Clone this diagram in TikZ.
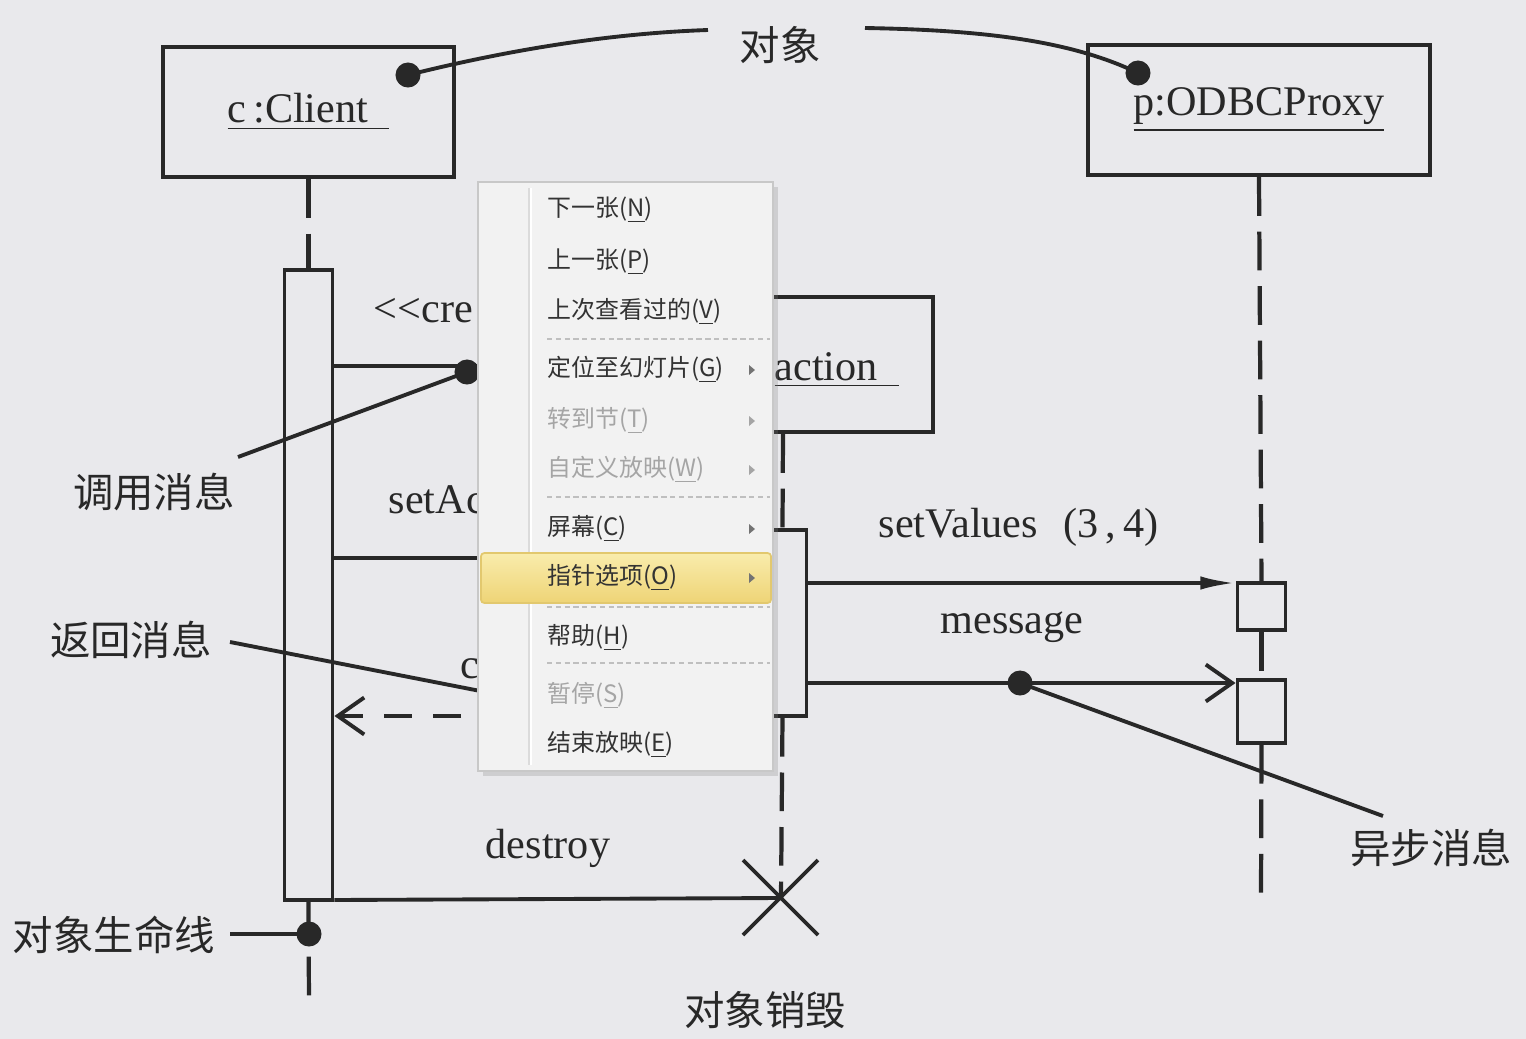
\documentclass[tikz,border=0pt]{standalone}
\usepackage{fontspec}
\setmainfont{Liberation Serif}
\newfontfamily\cjk{Noto Sans CJK SC}
\usetikzlibrary{arrows.meta,shadows}
\definecolor{bg}{RGB}{233,233,236}
\definecolor{ink}{RGB}{40,40,40}
\definecolor{menubg}{RGB}{242,242,242}
\definecolor{menuline}{RGB}{200,200,200}
\definecolor{hitop}{RGB}{249,236,172}
\definecolor{hibot}{RGB}{238,212,118}
\definecolor{hiedge}{RGB}{226,200,110}
\definecolor{dimtext}{RGB}{165,165,165}

\begin{document}
\begin{tikzpicture}[x=0.01cm, y=-0.01cm]
  \tikzset{
    obj/.style={draw=ink, line width=1.2pt, fill=bg, font=\fontsize{12pt}{14pt}\selectfont, text=ink},
    act/.style={draw=ink, line width=1.1pt, fill=bg, minimum width=0.48cm, inner sep=0pt},
    life/.style={draw=ink, line width=1.2pt, dash pattern=on 11pt off 4.5pt},
    msg/.style={draw=ink, line width=1.1pt},
    retmsg/.style={msg, dash pattern=on 8pt off 6pt},
    synchead/.style={-{Latex[length=10pt, width=3.8pt]}},
    asynchead/.style={-{Straight Barb[length=7.5pt, width=10.5pt, line width=1.1pt]}},
    lbl/.style={font=\fontsize{12pt}{14pt}\selectfont, text=ink, inner sep=0pt},
    anno/.style={font=\cjk\fontsize{11.5pt}{13pt}\selectfont, text=ink, inner sep=0pt},
    pinline/.style={draw=ink, line width=1.1pt},
    pindot/.style={circle, fill=ink, inner sep=0pt, minimum size=0.25cm},
    mitem/.style={font=\cjk\fontsize{6.8pt}{8pt}\selectfont, text=black!80, anchor=west, inner sep=0pt},
    dimitem/.style={mitem, text=dimtext},
    menusep/.style={draw=black!25, line width=0.5pt, dash pattern=on 1.5pt off 1pt}
  }
  \def\submark#1#2{\fill[#2] (749,#1-5) -- (755,#1) -- (749,#1+5) -- cycle;}

  \fill[bg] (0,0) rectangle (1526,1039);
  \useasboundingbox (0,0) rectangle (1526,1039);

  % objects
  \node[obj, minimum width=2.91cm, minimum height=1.30cm] (client) at (308.5,112) {\underline{c\,:Client\ \ }};
  \node[obj, minimum width=3.42cm, minimum height=1.30cm] (proxy) at (1259,110) {\underline{p:ODBCProxy}};
  \node[obj, minimum width=3.00cm, minimum height=1.35cm] (trans) at (783,364.5) {};
  \node[lbl, anchor=base west] (ltrans) at (774,380) {\underline{action\ \ }};

  % activations
  \node[act, minimum height=6.30cm] (cact) at (308.5,585) {};
  \node[act, minimum height=1.86cm] (tact) at (782.5,623) {};
  \node[act, minimum height=0.47cm] (pact1) at (1261.5,606.5) {};
  \node[act, minimum height=0.63cm] (pact2) at (1261.5,711.5) {};

  \coordinate (kill) at (781,898);
  \coordinate (cend) at (309,1006);
  \coordinate (pend) at (1261,902);

  % lifelines
  \draw[life] (client.south) -- (cact.north);
  \draw[life] (cact.south) -- (cend);
  \draw[life] (trans.south) -- (tact.north);
  \draw[life] (tact.south) -- (kill);
  \draw[life] (proxy.south) -- (pact1.north);
  \draw[life] (pact1.south) -- (pact2.north);
  \draw[life] (pact2.south) -- (pend);

  % messages
  \coordinate (ycreate) at (0,366);
  \coordinate (yset) at (0,558);
  \coordinate (yval) at (0,583);
  \coordinate (ymsg) at (0,683);
  \coordinate (yret) at (0,716);
  \coordinate (ydes) at (0,900);
  \draw[msg, asynchead] (cact.east |- ycreate) -- (trans.west |- ycreate);
  \draw[msg, synchead] (cact.east |- yset) -- (tact.west |- yset);
  \draw[msg, synchead] (tact.east |- yval) -- (pact1.west |- yval);
  \draw[msg, asynchead] (tact.east |- ymsg) -- (pact2.west |- ymsg);
  \draw[retmsg, asynchead] (tact.west |- yret) -- (cact.east |- yret);
  \draw[msg] (cact.east |- ydes) -- (kill);
  \draw[msg] ([shift={(-38,-38)}]kill) -- ([shift={(37,37)}]kill)
             ([shift={(37,-38)}]kill) -- ([shift={(-38,37)}]kill);

  \node[lbl, anchor=base west] (lcreate) at (373,322) {<{}<cre};
  \node[lbl, anchor=base west] (lset) at (388,513) {setAc};
  \node[lbl, anchor=base west] (lret) at (460,678) {c};
  \node[lbl, anchor=base west] (lval) at (878,537) {setValues\hspace{0.6em}(3\,,\,4)};
  \node[lbl, anchor=base] (lmsg) at (1012,633) {message};
  \node[lbl, anchor=base] (ldes) at (548,858) {destroy};

  % notes
  \node[pindot] (dclient) at (408,75) {};
  \node[pindot] (dproxy) at (1138,73) {};
  \node[anno] (nobj) at (780,45) {对象};
  \coordinate (o1) at (708,30);
  \coordinate (o2) at (865,28);
  \draw[pinline] (dclient.center) .. controls (520,47) and (620,33) .. (o1);
  \draw[pinline] (o2) .. controls (980,30) and (1070,40) .. (dproxy.center);

  \node[pindot] (dcall) at (467,372) {};
  \node[anno] (ncall) at (154,492) {调用消息};
  \coordinate (c1) at (238,457);
  \draw[pinline] (c1) -- (dcall.center);

  \node[anno] (nret) at (131,640) {返回消息};
  \coordinate (r1) at (230,642);
  \coordinate (r2) at (608,716);
  \draw[pinline] (r1) -- (r2);

  \node[pindot] (dasync) at (1020,683) {};
  \node[anno] (nasync) at (1431,848) {异步消息};
  \coordinate (a1) at (1383,816);
  \draw[pinline] (dasync.center) -- (a1);

  \node[pindot] (dlife) at (309,934) {};
  \node[anno] (nlife) at (114,935) {对象生命线};
  \coordinate (l1) at (230,934);
  \draw[pinline] (l1) -- (dlife.center);

  \node[anno] (nkill) at (765,1010) {对象销毁};

  % context menu
  \node[draw=menuline, fill=menubg, line width=0.6pt, minimum width=2.95cm, minimum height=5.89cm, inner sep=0pt,
        drop shadow={shadow xshift=1.5pt, shadow yshift=-1.5pt, opacity=0.25}] (menu) at (625.5,476.5) {};
  \draw[black!14, line width=0.6pt] (529,188) -- (529,765);
  \draw[white, line width=0.6pt] (531,188) -- (531,765);
  \node[draw=hiedge, top color=hitop, bottom color=hibot, rounded corners=1pt, line width=0.5pt,
        minimum width=2.90cm, minimum height=0.50cm, inner sep=0pt] (hi) at (626,578) {};

  \node[mitem] (m1) at (547,210) {下一张(\underline{N})};
  \node[mitem] (m2) at (547,262) {上一张(\underline{P})};
  \node[mitem] (m3) at (547,312) {上次查看过的(\underline{V})};
  \draw[menusep] (547,339) -- (770,339);
  \node[mitem] (m4) at (547,370) {定位至幻灯片(\underline{G})};
  \node[dimitem] (m5) at (547,421) {转到节(\underline{T})};
  \node[dimitem] (m6) at (547,470) {自定义放映(\underline{W})};
  \draw[menusep] (547,497) -- (770,497);
  \node[mitem] (m7) at (547,529) {屏幕(\underline{C})};
  \node[mitem] (m8) at (547,578) {指针选项(\underline{O})};
  \draw[menusep] (547,607) -- (770,607);
  \node[mitem] (m9) at (547,638) {帮助(\underline{H})};
  \draw[menusep] (547,663) -- (770,663);
  \node[dimitem] (m10) at (547,696) {暂停(\underline{S})};
  \node[mitem] (m11) at (547,745) {结束放映(\underline{E})};

  \submark{370}{black!55}
  \submark{421}{dimtext}
  \submark{470}{dimtext}
  \submark{529}{black!55}
  \submark{578}{black!55}
\end{tikzpicture}
\end{document}
